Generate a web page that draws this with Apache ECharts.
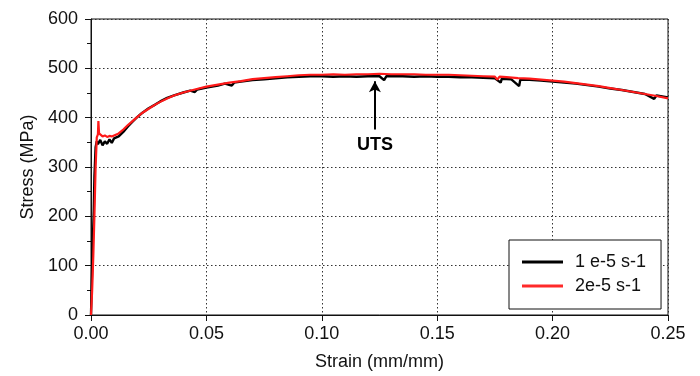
<!DOCTYPE html>
<html>
<head>
<meta charset="utf-8">
<script src="https://cdn.jsdelivr.net/npm/echarts@6.0.0/dist/echarts.min.js"></script>
<style>
  html, body { margin: 0; padding: 0; background: #fff; }
  #chart { width: 700px; height: 376px; }
</style>
</head>
<body>
<div id="chart"></div>
<script>
// [strain, stress]
const slowRate = [
  [0, 0], [0.0003, 60], [0.0008, 150], [0.0012, 212], [0.0015, 282], [0.0018, 286],
  [0.002, 340], [0.0025, 352], [0.003, 346], [0.004, 355], [0.005, 344], [0.006, 352],
  [0.007, 347], [0.008, 356], [0.009, 349], [0.010, 358], [0.012, 362], [0.014, 371],
  [0.016, 382], [0.018, 392], [0.020, 401], [0.022, 409], [0.025, 419], [0.028, 427],
  [0.030, 433], [0.033, 440], [0.036, 445], [0.040, 451], [0.043, 455], [0.045, 452],
  [0.046, 457], [0.050, 461], [0.055, 465], [0.058, 469], [0.061, 465], [0.062, 471],
  [0.065, 473], [0.070, 476], [0.075, 478], [0.080, 480], [0.085, 482], [0.090, 483],
  [0.095, 484], [0.100, 484], [0.105, 483], [0.110, 484], [0.115, 483], [0.120, 484],
  [0.125, 484], [0.127, 476], [0.128, 484], [0.135, 484], [0.140, 483], [0.145, 484],
  [0.150, 483], [0.155, 483], [0.160, 482], [0.165, 482], [0.170, 481], [0.175, 480],
  [0.1775, 471], [0.178, 479], [0.182, 478], [0.1855, 464], [0.186, 477], [0.190, 477],
  [0.195, 475], [0.200, 473], [0.205, 471], [0.210, 469], [0.215, 466], [0.220, 463],
  [0.225, 459], [0.230, 456], [0.235, 452], [0.240, 448], [0.244, 438], [0.245, 445],
  [0.250, 441]
];

const fastRate = [
  [0, 0], [0.0005, 50], [0.001, 120], [0.0015, 205], [0.002, 300], [0.0025, 360],
  [0.003, 366], [0.0032, 393], [0.0035, 368], [0.004, 365], [0.005, 362], [0.006, 364],
  [0.007, 361], [0.008, 363], [0.009, 362], [0.010, 364], [0.012, 368], [0.014, 376],
  [0.016, 385], [0.018, 393], [0.020, 401], [0.022, 409], [0.025, 418], [0.028, 427],
  [0.030, 432], [0.033, 439], [0.036, 445], [0.040, 451], [0.045, 457], [0.050, 463],
  [0.055, 467], [0.060, 471], [0.065, 474], [0.070, 478], [0.075, 480], [0.080, 482],
  [0.085, 484], [0.090, 486], [0.095, 487], [0.100, 487], [0.105, 488], [0.110, 487],
  [0.115, 488], [0.120, 488], [0.125, 489], [0.130, 488], [0.135, 488], [0.140, 488],
  [0.145, 487], [0.150, 487], [0.155, 487], [0.160, 486], [0.165, 485], [0.170, 484],
  [0.175, 483], [0.176, 477], [0.177, 483], [0.180, 482], [0.185, 480], [0.190, 479],
  [0.195, 477], [0.200, 475], [0.205, 473], [0.210, 470], [0.215, 467], [0.220, 464],
  [0.225, 460], [0.230, 456], [0.235, 452], [0.240, 448], [0.245, 444], [0.250, 439]
];

const seriesNames = ['1 e-5 s-1', '2e-5 s-1'];
const utsArrow = { strain: 0.123, from: 376, to: 474, text: 'UTS' };

const FONT = "'Liberation Sans', Arial, sans-serif";
const chart = echarts.init(document.getElementById('chart'));

const option = {
  animation: false,
  backgroundColor: '#fff',
  textStyle: { fontFamily: FONT },
  grid: {
    left: 91,
    right: 32,
    top: 19,
    bottom: 59,
    show: true,
    borderColor: '#111',
    borderWidth: 1,
    backgroundColor: 'transparent'
  },
  legend: {
    data: [
      { name: seriesNames[0], icon: 'rect', itemStyle: { color: '#000' } },
      { name: seriesNames[1], icon: 'rect', itemStyle: { color: '#ff2a2a' } }
    ],
    orient: 'vertical',
    left: 509,
    top: 240,
    padding: [13, 15, 14, 13],
    itemGap: 6,
    itemWidth: 41,
    itemHeight: 3,
    backgroundColor: '#fff',
    borderColor: '#111',
    borderWidth: 1,
    borderRadius: 0,
    textStyle: { fontFamily: FONT, fontSize: 18, color: '#111', lineHeight: 18, padding: [0, 0, 0, 7] }
  },
  xAxis: {
    type: 'value',
    min: 0,
    max: 0.25,
    interval: 0.05,
    name: 'Strain (mm/mm)',
    nameLocation: 'middle',
    nameGap: 38,
    nameTextStyle: { fontFamily: FONT, fontSize: 18, color: '#111' },
    axisLine: { show: true, lineStyle: { color: '#111', width: 1 } },
    axisTick: { show: true, length: 6, lineStyle: { color: '#111' } },
    axisLabel: {
      fontFamily: FONT, fontSize: 18, color: '#111', margin: 10,
      formatter: v => v.toFixed(2)
    },
    splitLine: { show: true, lineStyle: { color: '#333', type: [1.5, 2.5], width: 1 } }
  },
  yAxis: {
    type: 'value',
    min: 0,
    max: 600,
    interval: 100,
    name: 'Stress (MPa)',
    nameLocation: 'middle',
    nameGap: 46,
    nameTextStyle: { fontFamily: FONT, fontSize: 18, color: '#111' },
    axisLine: { show: true, lineStyle: { color: '#111', width: 1 } },
    axisTick: { show: true, length: 6, lineStyle: { color: '#111' } },
    minorTick: { show: true, splitNumber: 2, length: 4, lineStyle: { color: '#111' } },
    axisLabel: { fontFamily: FONT, fontSize: 18, color: '#111', margin: 13 },
    splitLine: { show: true, lineStyle: { color: '#333', type: [1.5, 2.5], width: 1 } }
  },
  series: [
    {
      name: seriesNames[0],
      type: 'line',
      symbol: 'none',
      data: slowRate,
      lineStyle: { color: '#000', width: 2.4 },
      itemStyle: { color: '#000' },
      z: 2,
      markLine: {
        silent: true,
        symbol: ['none', 'arrow'],
        symbolSize: [9, 11],
        lineStyle: { color: '#000', width: 2, type: 'solid' },
        label: {
          show: true,
          position: 'start',
          distance: 7,
          formatter: utsArrow.text,
          fontFamily: FONT,
          fontSize: 18,
          fontWeight: 'bold',
          color: '#000'
        },
        data: [[
          { coord: [utsArrow.strain, utsArrow.from] },
          { coord: [utsArrow.strain, utsArrow.to] }
        ]]
      }
    },
    {
      name: seriesNames[1],
      type: 'line',
      symbol: 'none',
      data: fastRate,
      lineStyle: { color: '#ff1a1a', width: 2.2 },
      itemStyle: { color: '#ff1a1a' },
      z: 3
    }
  ]
};

chart.setOption(option);
</script>
</body>
</html>
